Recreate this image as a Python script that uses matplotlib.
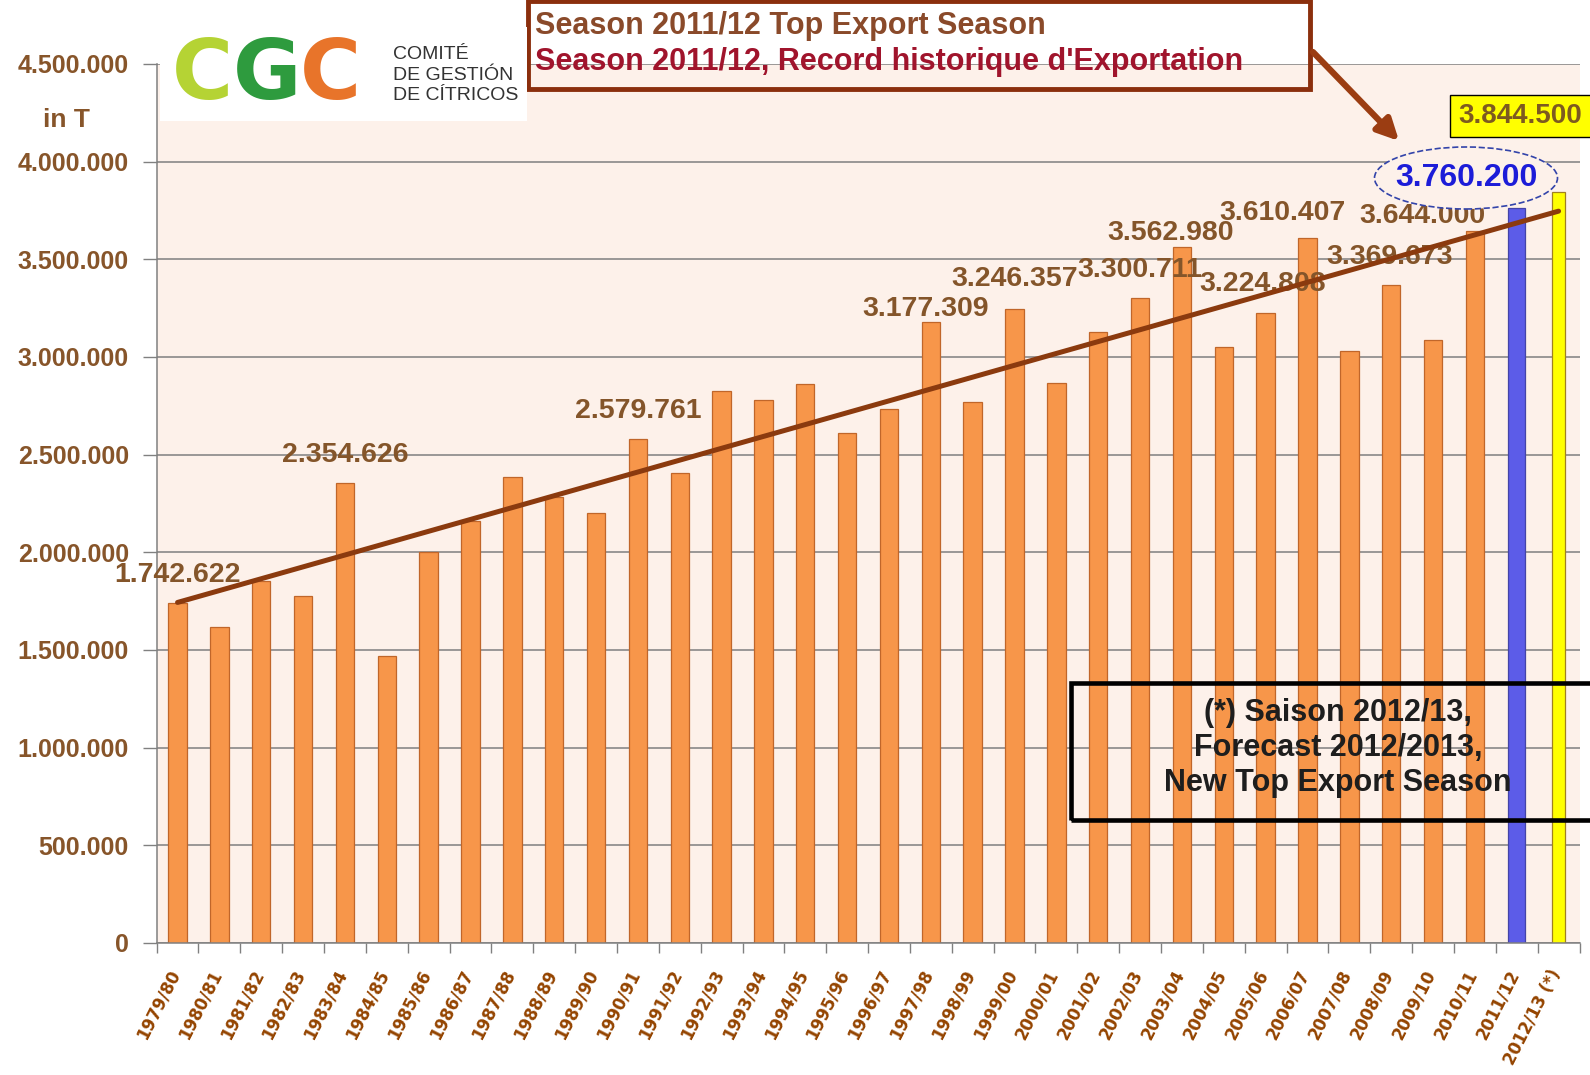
import numpy as np
import matplotlib
matplotlib.use('Agg')
import matplotlib.pyplot as plt
from matplotlib.patches import Rectangle, Ellipse
from matplotlib.transforms import ScaledTranslation

plt.rcParams['font.family'] = ['Liberation Sans', 'DejaVu Sans']

# Citrus export per season (T)
seasons = ['1979/80', '1980/81', '1981/82', '1982/83', '1983/84', '1984/85',
           '1985/86', '1986/87', '1987/88', '1988/89', '1989/90', '1990/91',
           '1991/92', '1992/93', '1993/94', '1994/95', '1995/96', '1996/97',
           '1997/98', '1998/99', '1999/00', '2000/01', '2001/02', '2002/03',
           '2003/04', '2004/05', '2005/06', '2006/07', '2007/08', '2008/09',
           '2009/10', '2010/11', '2011/12', '2012/13 (*)']
export_t = [1742622, 1618000, 1855000, 1778000, 2354626, 1469000,
            2004000, 2162000, 2384000, 2285000, 2200000, 2579761,
            2404000, 2826000, 2780000, 2862000, 2609000, 2736000,
            3177309, 2768000, 3246357, 2869000, 3130000, 3300711,
            3562980, 3053000, 3224808, 3610407, 3032000, 3369673,
            3087000, 3644000, 3760200, 3844500]

# bars carrying a value label, and where the label sits (pixels from bar top)
labelled = [0, 4, 11, 18, 20, 23, 24, 26, 27, 29, 31]
label_off = [(0, 28), (0, 28), (0, 28), (-5, 13), (0, 30), (0, 28),
             (-11, 14), (-3, 29), (-25, 25), (-2, 28), (-52, 15)]
record_idx = 32
forecast_idx = 33

W, H = 1590, 1075
def fx(px):
    return px / W
def fy(py):
    return 1 - py / H

fig = plt.figure(figsize=(W / 100, H / 100), dpi=100)
fig.patch.set_facecolor('white')
ax = fig.add_axes([0.0985, 0.1228, 0.8949, 0.8177])
ax.set_facecolor('#fdf1ea')

x = np.arange(len(seasons))
vals = np.array(export_t, dtype=float)

colors = ['#f7964a'] * len(seasons)
edges = ['#c0662a'] * len(seasons)
widths = [0.44] * len(seasons)
colors[record_idx] = '#5c5ce8'
edges[record_idx] = '#4444a8'
widths[record_idx] = 0.4
colors[forecast_idx] = '#ffff00'
edges[forecast_idx] = '#a08020'
widths[forecast_idx] = 0.3
ax.bar(x, vals, width=widths, color=colors, edgecolor=edges, linewidth=0.9, zorder=2)

# linear trend
coef = np.polyfit(x, vals, 1)
ax.plot(x, np.polyval(coef, x), color='#8b3a0e', lw=3.6, zorder=4, solid_capstyle='round')

ax.set_xlim(-0.5, len(seasons) - 0.5)
ax.set_ylim(0, 4500000)
ax.set_yticks(np.arange(0, 4500001, 500000))
ax.set_yticklabels([f'{v:,.0f}'.replace(',', '.') for v in np.arange(0, 4500001, 500000)],
                   fontsize=18, fontweight='bold', color='#87552a')
ax.tick_params(axis='y', length=10, width=1, color='#808080', pad=10)
ax.yaxis.grid(True, color='#7f7f7f', lw=1.1)
ax.set_axisbelow(True)

ax.set_xticks(x)
ax.set_xticklabels(seasons, rotation=63, ha='right', va='top', rotation_mode='anchor',
                   fontsize=12, fontweight='bold', color='#944400', family='DejaVu Sans')
ax.set_xticks(np.arange(-0.5, len(seasons), 1), minor=True)
ax.tick_params(axis='x', which='major', length=0, pad=17)
ax.tick_params(axis='x', which='minor', length=7, width=1, color='#808080')
shift = ScaledTranslation(-10 / 100, 0, fig.dpi_scale_trans)
for lbl in ax.get_xticklabels():
    lbl.set_transform(lbl.get_transform() + shift)

for sp in ['top', 'right']:
    ax.spines[sp].set_visible(False)
for sp in ['left', 'bottom']:
    ax.spines[sp].set_color('#808080')
    ax.spines[sp].set_linewidth(1.1)

# value labels
for i, (dx, dy) in zip(labelled, label_off):
    ax.annotate(f'{export_t[i]:,.0f}'.replace(',', '.'), xy=(x[i], vals[i]),
                xytext=(dx, dy), textcoords='offset pixels', ha='center', va='center',
                fontsize=20.5, fontweight='bold', color='#84552a', zorder=3)

# record season, circled in blue
ax.add_patch(Ellipse((fx(1466), fy(178)), 183 / W, 62 / H, transform=fig.transFigure,
                     facecolor='#fdf1ea', edgecolor='#3344aa', ls='--', lw=1.2,
                     clip_on=False, zorder=5))
ax.annotate(f'{export_t[record_idx]:,.0f}'.replace(',', '.'), xy=(x[record_idx], vals[record_idx]),
            xytext=(-50, 30), textcoords='offset pixels', ha='center', va='center',
            fontsize=23, fontweight='bold', color='#1c1cd8', zorder=6, annotation_clip=False)

# forecast value in yellow box
ax.annotate(f'{export_t[forecast_idx]:,.0f}'.replace(',', '.'), xy=(x[forecast_idx], vals[forecast_idx]),
            xytext=(-100, 76), textcoords='offset pixels', ha='left', va='center',
            fontsize=20, fontweight='bold', color='#7d5a20', zorder=6, annotation_clip=False,
            bbox=dict(boxstyle='square,pad=0.3', fc='#ffff00', ec='black', lw=1))

# title box and arrow
ax.add_patch(Rectangle((fx(528), fy(89)), fx(1310) - fx(528), fy(1) - fy(89),
                       transform=fig.transFigure, fill=False, edgecolor='#8b2f0d', lw=3.5,
                       clip_on=False, zorder=6))
fig.text(fx(535), fy(26), 'Season 2011/12 Top Export Season', ha='left', va='center',
         fontsize=22, fontweight='bold', color='#8a4a2a')
fig.text(fx(535), fy(62), "Season 2011/12, Record historique d'Exportation", ha='left', va='center',
         fontsize=22, fontweight='bold', color='#a0142c')
ax.annotate('', xy=(fx(1401), fy(143)), xytext=(fx(1311), fy(50)),
            xycoords='figure fraction', textcoords='figure fraction',
            arrowprops=dict(arrowstyle='-|>', color='#9b3d12', lw=4.5, mutation_scale=32),
            zorder=6, annotation_clip=False)

# forecast note
ax.add_patch(Rectangle((fx(1071), fy(820)), fx(1600) - fx(1071), fy(683) - fy(820),
                       transform=fig.transFigure, fill=False, edgecolor='black', lw=3.3,
                       clip_on=False, zorder=6))
ax.text(fx(1338), fy(748), '(*) Saison 2012/13,\nForecast 2012/2013,\nNew Top Export Season',
        transform=fig.transFigure, ha='center', va='center', fontsize=22, fontweight='bold',
        color='#1e1e1e', linespacing=1.2, zorder=6)

# unit
fig.text(fx(66), fy(120), 'in T', ha='center', va='center', fontsize=19,
         fontweight='bold', color='#87552a')

# logo
fig.add_artist(Rectangle((fx(160), fy(121)), fx(527) - fx(160), fy(27) - fy(121),
                         transform=fig.transFigure, facecolor='white', edgecolor='none', zorder=1))
for ch, cx, col in [('C', 202, '#b5d334'), ('G', 267, '#2e9b3e'), ('C', 330, '#e8742a')]:
    fig.text(fx(cx), fy(76), ch, ha='center', va='center', fontsize=60, fontweight='heavy',
             color=col, family='DejaVu Sans', zorder=2)
fig.text(fx(393), fy(75), 'COMITÉ\nDE GESTIÓN\nDE CÍTRICOS', ha='left', va='center',
         fontsize=14, color='#333333', linespacing=1.3, zorder=2)

fig.savefig('out.png', dpi=100)
